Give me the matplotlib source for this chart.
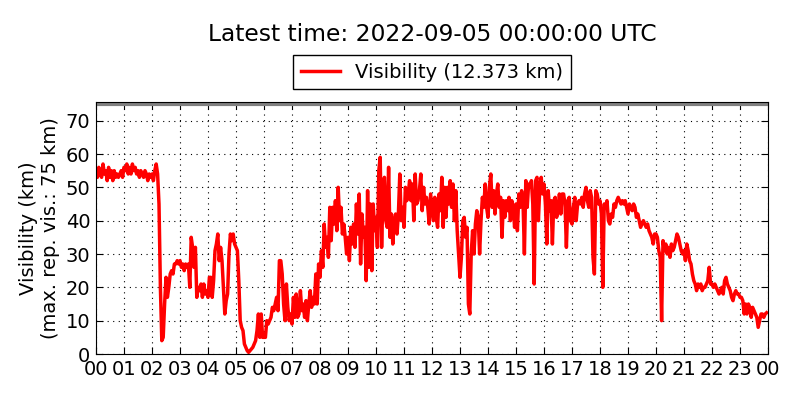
import numpy as np
import matplotlib
matplotlib.use('Agg')
import matplotlib.pyplot as plt

# visibility (km), one value every 3 minutes, one row per hour
vis_by_hour = [
    [55, 53, 56, 54, 53, 57, 54, 55, 52, 56, 53, 55, 52, 55, 53, 54, 53, 54, 55, 53],
    [56, 55, 57, 54, 56, 54, 57, 55, 56, 54, 55, 53, 55, 54, 53, 55, 54, 52, 54, 53],
    [54, 52, 55, 57, 54, 45, 20, 4, 5, 15, 23, 17, 20, 24, 25, 24, 27, 27, 28, 27],
    [28, 26, 27, 25, 27, 26, 27, 20, 35, 32, 26, 32, 17, 20, 19, 21, 17, 21, 18, 19],
    [17, 23, 23, 17, 22, 31, 33, 36, 28, 32, 28, 20, 12, 16, 18, 30, 36, 34, 36, 33],
    [32, 31, 22, 10, 8, 7, 3, 2, 1, 0.5, 1, 1.5, 2, 3, 4, 7, 12, 5, 12, 5],
    [5, 5, 10, 9, 10, 11, 14, 13, 15, 17, 13, 28, 28, 24, 15, 10, 21, 14, 10, 12],
    [9, 17, 11, 18, 11, 12, 19, 13, 15, 11, 16, 10, 15, 19, 14, 17, 15, 24, 15, 27],
    [23, 31, 26, 39, 32, 35, 29, 44, 34, 44, 39, 46, 37, 50, 40, 44, 36, 39, 35, 30],
    [35, 28, 38, 33, 39, 32, 45, 36, 48, 27, 42, 35, 38, 22, 49, 26, 45, 25, 45, 37],
    [41, 32, 55, 59, 32, 48, 53, 40, 38, 56, 35, 42, 33, 40, 42, 36, 42, 54, 40, 44],
    [38, 50, 46, 48, 52, 46, 51, 40, 54, 45, 46, 49, 54, 43, 50, 45, 47, 44, 39, 48],
    [44, 40, 47, 41, 38, 48, 43, 53, 38, 50, 41, 50, 45, 52, 44, 51, 40, 49, 37, 30],
    [23, 29, 40, 41, 35, 38, 15, 12, 30, 37, 30, 39, 43, 41, 30, 40, 47, 44, 51, 44],
    [41, 50, 54, 44, 49, 42, 48, 51, 44, 47, 35, 46, 41, 46, 43, 47, 40, 46, 44, 38],
    [45, 37, 48, 44, 49, 46, 30, 52, 44, 51, 50, 52, 45, 21, 52, 53, 40, 50, 53, 48],
    [51, 45, 33, 49, 43, 46, 33, 46, 47, 41, 43, 48, 42, 48, 48, 45, 32, 46, 47, 40],
    [39, 44, 47, 40, 45, 46, 45, 47, 44, 48, 50, 46, 44, 49, 47, 29, 24, 49, 48, 45],
    [46, 42, 20, 45, 44, 46, 40, 39, 42, 41, 45, 44, 46, 47, 46, 45, 46, 45, 46, 44],
    [42, 45, 44, 43, 45, 44, 41, 42, 40, 38, 39, 40, 39, 38, 39, 37, 36, 35, 33, 36],
    [36, 35, 31, 29, 10, 34, 31, 33, 30, 32, 29, 33, 31, 32, 34, 36, 35, 33, 31, 30],
    [31, 28, 33, 31, 28, 27, 24, 22, 21, 19, 21, 20, 21, 19, 20, 20, 21, 22, 26, 21],
    [21, 20, 21, 20, 19, 18, 19, 20, 18, 22, 23, 21, 20, 19, 17, 16, 18, 19, 18, 18],
    [17, 17, 16, 12, 15, 12, 15, 14, 11, 14, 13, 12, 11, 8, 10, 12, 12, 11, 12, 12.373],
]
hour_labels = ['%02d' % h for h in range(24)] + ['00']
latest_time = '2022-09-05 00:00:00 UTC'
max_vis = 75

vis = np.concatenate([np.array(v, dtype=float) for v in vis_by_hour])
hours = np.arange(len(vis)) * 0.05

fig = plt.figure(figsize=(8, 4), dpi=100)
ax = fig.add_axes([0.12, 0.115, 0.84, 0.63])

ax.plot(hours, vis, color='red', lw=2.5, label='Visibility (%.3f km)' % vis[-1])
ax.axhline(max_vis, color='grey', lw=3)

ax.set_xlim(0, 24)
ax.set_ylim(0, 75.6)
ax.set_xticks(range(25))
ax.set_xticklabels(hour_labels)
ax.set_yticks(range(0, 80, 10))
ax.tick_params(direction='in', top=True, right=True, labelsize=14, length=5, pad=4)
ax.grid(True, color='black', linestyle=(0, (1, 4)), lw=0.8)
ax.set_ylabel('Visibility (km)\n(max. rep. vis.: %d km)' % max_vis, fontsize=14)

leg = ax.legend(loc='lower center', bbox_to_anchor=(0.5, 1.05), fontsize=14,
                fancybox=False, framealpha=1, edgecolor='black', borderaxespad=0)
leg.get_frame().set_linewidth(1)

fig.text(0.54, 0.913, 'Latest time: ' + latest_time, ha='center', va='center', fontsize=16.8)

fig.savefig('out.png', dpi=100)
